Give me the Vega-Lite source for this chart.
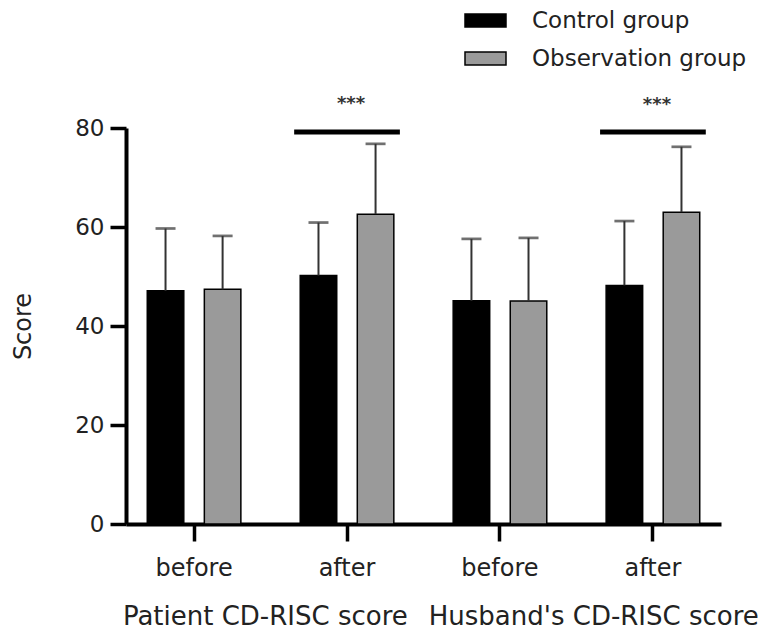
{
  "$schema": "https://vega.github.io/schema/vega-lite/v6.json",
  "width": 595,
  "height": 396,
  "autosize": {"type": "none"},
  "padding": {"left": 126, "top": 128, "right": 41, "bottom": 106},
  "background": "white",
  "config": {"view": {"stroke": null}, "font": "DejaVu Sans"},
  "datasets": {
    "bars": [
      {"cat": "Patient CD-RISC score|before", "group": "Control group", "value": 47.1, "upper": 59.7},
      {"cat": "Patient CD-RISC score|before", "group": "Observation group", "value": 47.4, "upper": 58.2},
      {"cat": "Patient CD-RISC score|after", "group": "Control group", "value": 50.2, "upper": 60.9},
      {"cat": "Patient CD-RISC score|after", "group": "Observation group", "value": 62.6, "upper": 76.8},
      {"cat": "Husband's CD-RISC score|before", "group": "Control group", "value": 45.1, "upper": 57.6},
      {"cat": "Husband's CD-RISC score|before", "group": "Observation group", "value": 45.05, "upper": 57.8},
      {"cat": "Husband's CD-RISC score|after", "group": "Control group", "value": 48.2, "upper": 61.2},
      {"cat": "Husband's CD-RISC score|after", "group": "Observation group", "value": 63.0, "upper": 76.2}
    ],
    "sig": [
      {"cat": "Patient CD-RISC score|after", "y": 78.7, "y2": 79.7, "label": "***", "ty": 83.9},
      {"cat": "Husband's CD-RISC score|after", "y": 78.7, "y2": 79.7, "label": "***", "ty": 83.6}
    ],
    "groups": [
      {"cat": "Patient CD-RISC score|before", "label": "Patient CD-RISC score", "ty": -20.4},
      {"cat": "Husband's CD-RISC score|before", "label": "Husband's CD-RISC score", "ty": -20.4}
    ]
  },
  "layer": [
    {
      "data": {"name": "bars"},
      "mark": {"type": "bar", "stroke": "black", "strokeWidth": 1.5},
      "encoding": {
        "x": {
          "field": "cat", "type": "nominal",
          "scale": {
            "domain": ["Patient CD-RISC score|before", "Patient CD-RISC score|after", "Husband's CD-RISC score|before", "Husband's CD-RISC score|after"],
            "paddingInner": 0.2, "paddingOuter": 0.045
          },
          "axis": {
            "title": null, "labelExpr": "split(datum.value, '|')[1]", "labelAngle": 0,
            "labelFont": "DejaVu Sans", "labelFontSize": 24, "labelColor": "#222222",
            "tickSize": 17, "tickWidth": 3.5, "tickColor": "black",
            "domainColor": "black", "domainWidth": 4, "labelPadding": 15
          }
        },
        "xOffset": {
          "field": "group", "type": "nominal",
          "scale": {"domain": ["Control group", "Observation group"], "paddingInner": 0.36, "paddingOuter": 0.252}
        },
        "y": {
          "field": "value", "type": "quantitative",
          "scale": {"domain": [0, 80], "nice": false},
          "axis": {
            "title": "Score", "values": [0, 20, 40, 60, 80], "grid": false,
            "tickSize": 16, "tickWidth": 3.5, "tickColor": "black",
            "domainColor": "black", "domainWidth": 4,
            "labelFont": "DejaVu Sans", "labelFontSize": 23, "labelPadding": 6, "labelColor": "#222222",
            "titleFont": "DejaVu Sans", "titleFontSize": 24, "titleFontWeight": "normal", "titleColor": "#222222", "titlePadding": 39
          }
        },
        "color": {
          "field": "group", "type": "nominal",
          "scale": {"domain": ["Control group", "Observation group"], "range": ["#000000", "#9a9a9a"]},
          "legend": {
            "title": null, "orient": "none", "legendX": 338, "legendY": -129,
            "symbolType": "M-1,-0.32H1V0.32H-1Z", "symbolSize": 1681,
            "symbolStrokeColor": "black", "symbolStrokeWidth": 1.5,
            "labelFont": "DejaVu Sans", "labelFontSize": 23, "labelColor": "#222222", "labelLimit": 400,
            "labelOffset": 25, "rowPadding": 4, "padding": 0
          }
        }
      }
    },
    {
      "data": {"name": "bars"},
      "mark": {"type": "rule", "color": "#333333", "strokeWidth": 2},
      "encoding": {
        "x": {"field": "cat", "type": "nominal"},
        "xOffset": {"field": "group", "type": "nominal"},
        "y": {"field": "value", "type": "quantitative"},
        "y2": {"field": "upper"}
      }
    },
    {
      "data": {"name": "bars"},
      "mark": {"type": "tick", "color": "#333333", "size": 20, "thickness": 2.7},
      "encoding": {
        "x": {"field": "cat", "type": "nominal"},
        "xOffset": {"field": "group", "type": "nominal"},
        "y": {"field": "upper", "type": "quantitative"}
      }
    },
    {
      "data": {"name": "sig"},
      "mark": {"type": "bar", "color": "black", "width": {"band": 0.864}},
      "encoding": {
        "x": {"field": "cat", "type": "nominal"},
        "y": {"field": "y", "type": "quantitative"},
        "y2": {"field": "y2"}
      }
    },
    {
      "data": {"name": "sig"},
      "mark": {"type": "text", "font": "DejaVu Sans", "fontWeight": "bold", "fontSize": 18, "color": "#333333", "baseline": "alphabetic", "dx": 4},
      "encoding": {
        "x": {"field": "cat", "type": "nominal"},
        "y": {"field": "ty", "type": "quantitative"},
        "text": {"field": "label"}
      }
    },
    {
      "data": {"name": "groups"},
      "mark": {"type": "text", "font": "DejaVu Sans", "fontSize": 26, "color": "#222222", "baseline": "alphabetic", "align": "left", "dx": -10},
      "encoding": {
        "x": {"field": "cat", "type": "nominal", "bandPosition": 0},
        "y": {"field": "ty", "type": "quantitative"},
        "text": {"field": "label"}
      }
    }
  ]
}
